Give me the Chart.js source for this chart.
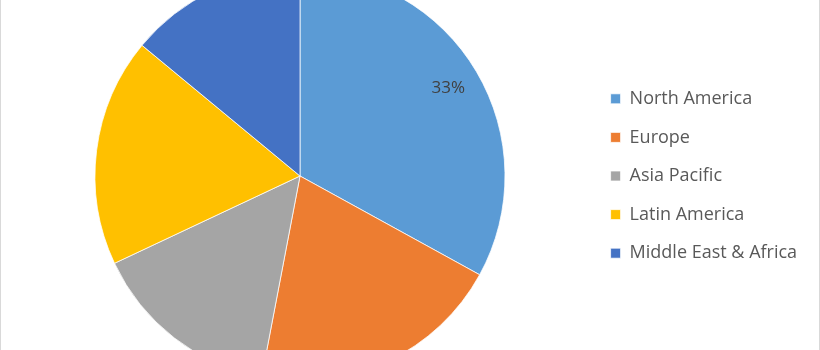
<!DOCTYPE html>
<html>
<head>
<meta charset="utf-8">
<script src="https://cdn.jsdelivr.net/npm/chart.js@4"></script>
<style>
  html, body { margin: 0; padding: 0; background: #fff; }
  body { width: 820px; height: 350px; overflow: hidden; position: relative; }
  #wrap { position: absolute; left: 0; top: -29px; width: 820px; height: 410px; }
  #frame { position: absolute; left: 0; top: 0; width: 818px; height: 350px;
           border-left: 1px solid #d9d9d9; border-right: 1px solid #d9d9d9; pointer-events: none; }
</style>
</head>
<body>
<div id="wrap"><canvas id="pie" width="820" height="410"></canvas></div>
<div id="frame"></div>
<script>
const regions = ['North America', 'Europe', 'Asia Pacific', 'Latin America', 'Middle East & Africa'];
const shares = [33, 20, 15, 18, 14];
const colours = ['#5b9bd5', '#ed7d31', '#a5a5a5', '#ffc000', '#4472c4'];

const FONT = '"Open Sans", sans-serif';

// force the legend width so the pie sits where it does in the original
const legendWidth = {
  id: 'legendWidth',
  beforeUpdate(chart) {
    const lg = chart.legend;
    if (!lg || lg._patched) return;
    const fit = lg.fit;
    lg.fit = function () {
      fit.call(this);
      this.width = 230;
    };
    lg._patched = true;
  }
};

// percentage label on the first slice only
const firstLabel = {
  id: 'firstLabel',
  afterDatasetsDraw(chart) {
    const arc = chart.getDatasetMeta(0).data[0];
    const p = arc.getProps(['x', 'y', 'startAngle', 'endAngle', 'outerRadius'], true);
    const mid = (p.startAngle + p.endAngle) / 2;
    const total = shares.reduce((a, b) => a + b, 0);
    const ctx = chart.ctx;
    ctx.save();
    ctx.font = '17px ' + FONT;
    ctx.fillStyle = '#404040';
    ctx.textAlign = 'center';
    ctx.textBaseline = 'middle';
    ctx.fillText(Math.round(shares[0] / total * 100) + '%',
      p.x + Math.cos(mid) * p.outerRadius * 0.84,
      p.y + Math.sin(mid) * p.outerRadius * 0.84);
    ctx.restore();
  }
};

new Chart(document.getElementById('pie'), {
  type: 'pie',
  data: {
    labels: regions,
    datasets: [{
      data: shares,
      backgroundColor: colours,
      borderColor: '#ffffff',
      borderWidth: 0.75,
      radius: 205
    }]
  },
  options: {
    responsive: false,
    animation: false,
    layout: { padding: { left: 10, right: 0, top: 0, bottom: 0 } },
    plugins: {
      tooltip: { enabled: false },
      legend: {
        position: 'right',
        labels: {
          boxWidth: 10,
          boxHeight: 10,
          padding: 20.6,
          color: '#595959',
          font: { family: FONT, size: 18 }
        }
      }
    }
  },
  plugins: [legendWidth, firstLabel]
});
</script>
</body>
</html>
